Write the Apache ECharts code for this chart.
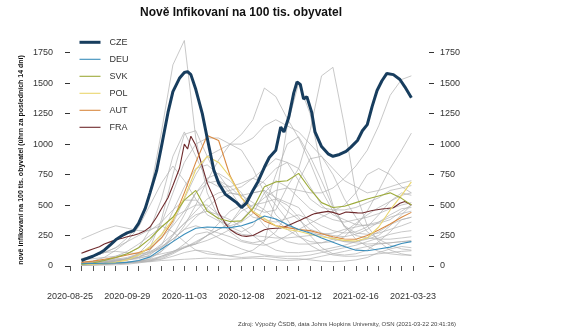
<!DOCTYPE html>
<html>
<head>
<meta charset="utf-8">
<script src="https://cdn.jsdelivr.net/npm/echarts@6/dist/echarts.min.js"></script>
<style>
  html, body { margin: 0; padding: 0; background: #ffffff; }
  #chart { width: 579px; height: 335px; }
</style>
</head>
<body>
<div id="chart"></div>
<script>
// ---- axis reference --------------------------------------------------------
const startDate = '2020-08-25';
const endDate = '2021-03-23';
const labelDates = ['2020-08-25', '2020-09-29', '2020-11-03', '2020-12-08',
                    '2021-01-12', '2021-02-16', '2021-03-23'];
const yTicks = [0, 250, 500, 750, 1000, 1250, 1500, 1750];

// ---- sampling dates --------------------------------------------------------
const halfWeekDates = [
  '2020-09-01','2020-09-04','2020-09-08','2020-09-12','2020-09-15','2020-09-19','2020-09-22',
  '2020-09-26','2020-09-29','2020-10-03','2020-10-06','2020-10-10','2020-10-13','2020-10-17',
  '2020-10-20','2020-10-24','2020-10-27','2020-10-31','2020-11-03','2020-11-05','2020-11-07',
  '2020-11-10','2020-11-14','2020-11-17','2020-11-21','2020-11-24','2020-11-28','2020-12-01',
  '2020-12-05','2020-12-08','2020-12-11','2020-12-15','2020-12-18','2020-12-22','2020-12-25',
  '2020-12-29','2021-01-01','2021-01-03','2021-01-06','2021-01-09','2021-01-11','2021-01-13',
  '2021-01-15','2021-01-17','2021-01-20','2021-01-22','2021-01-26','2021-01-30','2021-02-02',
  '2021-02-06','2021-02-10','2021-02-13','2021-02-17','2021-02-20','2021-02-23','2021-02-26',
  '2021-03-01','2021-03-04','2021-03-07','2021-03-11','2021-03-15','2021-03-18','2021-03-22'
];
const weekDates = [
  '2020-09-01','2020-09-08','2020-09-15','2020-09-22','2020-09-29','2020-10-06','2020-10-13',
  '2020-10-20','2020-10-27','2020-11-03','2020-11-10','2020-11-17','2020-11-24','2020-12-01',
  '2020-12-08','2020-12-15','2020-12-22','2020-12-29','2021-01-05','2021-01-12','2021-01-19',
  '2021-01-26','2021-02-02','2021-02-09','2021-02-16','2021-02-23','2021-03-02','2021-03-09',
  '2021-03-16','2021-03-22'
];

// ---- highlighted countries -------------------------------------------------
const CZE = [45,60,80,105,130,178,215,250,272,290,350,470,600,780,980,1260,1430,1540,1588,1595,
             1570,1450,1250,1050,790,680,590,560,520,480,515,620,690,810,890,950,1140,1100,1225,
             1420,1510,1490,1370,1390,1260,1100,980,920,900,915,940,975,1030,1110,1160,1310,1440,
             1520,1580,1570,1530,1470,1380];
const FRA = [105,120,140,158,180,200,215,228,240,252,265,290,320,400,470,560,660,800,1000,960,
             1065,990,820,680,560,440,350,300,265,248,243,250,270,298,305,310,312,320,335,353,
             365,375,390,400,420,430,440,448,440,422,443,440,436,435,445,455,462,468,472,478,
             515,530,500];
const DEU = [18,20,22,25,30,45,75,140,200,260,310,320,315,315,330,360,410,385,340,300,
             270,230,195,160,130,125,140,155,185,200];
const SVK = [15,25,45,70,100,150,225,320,400,540,620,450,390,365,370,470,650,690,700,760,
             630,520,480,490,520,550,575,600,555,500];
const POL = [12,15,20,30,50,90,160,260,380,560,790,900,850,730,560,450,390,330,300,285,
             260,240,225,210,205,230,320,460,580,690];
const AUT = [30,40,55,70,90,110,140,230,370,600,850,1070,1030,740,560,440,370,330,315,300,
             290,265,240,222,220,250,295,345,400,440];

// ---- other European countries (background) ---------------------------------
const BEL = [60,80,110,150,230,330,600,1100,1650,1850,1050,600,400,300,260,250,240,230,230,240,250,260,270,300,320,340,360,400,430,450];
const ESP = [220,260,300,330,310,290,290,360,460,540,540,470,380,280,210,190,210,280,430,700,880,900,750,550,400,280,220,170,140,130];
const LTU = [10,12,15,20,25,40,70,120,200,330,500,700,870,1000,1080,1200,1460,1390,1210,1050,850,620,450,330,270,260,270,300,330,360];
const PRT = [30,35,45,55,70,100,150,230,330,450,600,680,700,650,560,480,440,460,650,800,1110,1560,1630,1150,600,330,200,130,100,85];
const EST = [10,12,15,20,30,40,55,80,110,150,180,210,250,300,380,480,560,620,640,620,600,600,640,720,820,950,1150,1400,1530,1560];
const HUN = [5,8,15,30,60,90,120,160,220,300,400,480,560,600,580,520,460,380,300,240,200,190,200,240,330,450,620,800,950,1090];
const CHE = [20,25,30,40,60,90,150,380,750,1080,1110,900,700,600,580,600,620,560,520,480,350,270,230,200,190,180,185,190,200,210];
const SVN = [15,20,30,40,60,100,200,350,600,850,1000,1050,1050,1000,1000,1050,1150,1200,1150,1100,1000,900,800,700,650,600,620,650,680,700];
const IRL = [60,80,110,150,200,250,300,330,280,200,130,100,90,85,100,130,200,550,1150,1500,1250,800,500,320,250,230,220,220,230,240];
const GBR = [20,30,50,80,120,180,250,320,400,450,500,500,420,320,280,330,480,750,1000,1060,900,700,480,330,220,160,120,100,90,90];
const NLD = [25,40,70,130,200,320,500,680,820,700,550,420,370,330,360,430,600,700,650,560,470,420,380,360,380,400,430,470,500,520];
const ITA = [30,35,40,45,50,70,130,250,450,650,800,830,750,620,480,400,380,360,390,420,380,330,290,270,280,320,420,530,600,580];
const SWE = [25,30,35,45,60,80,100,150,250,350,450,550,600,620,650,720,800,880,850,700,550,480,460,460,480,520,560,620,640,660];
const LVA = [5,5,8,10,15,25,40,80,120,160,180,250,350,450,500,620,700,800,850,800,650,500,420,380,340,330,350,380,450,500];
const DNK = [20,25,35,50,60,70,80,100,120,150,190,250,300,350,480,600,620,500,380,250,170,120,90,80,80,90,100,110,120,125];
const HRV = [15,30,50,60,50,60,90,170,350,550,750,900,950,1000,950,800,600,420,330,300,280,250,220,200,200,220,250,330,420,500];
const BGR = [10,12,15,20,25,35,60,120,250,420,600,720,760,700,600,450,330,250,200,180,180,190,220,280,350,420,480,530,580,600];
const ROU = [20,25,30,40,50,70,110,180,260,350,420,450,420,380,320,250,180,130,110,110,120,130,150,170,200,230,280,340,380,400];
const GRC = [20,25,30,30,35,40,50,70,110,180,260,280,230,180,140,110,90,80,80,80,90,110,130,150,170,200,230,260,280,290];
const FIN = [10,12,15,20,25,30,35,45,50,55,60,65,60,55,60,65,60,50,45,50,60,80,100,120,140,160,180,190,200,200];
const NOR = [10,15,20,25,30,35,40,55,80,110,130,120,100,80,70,75,80,70,60,60,50,40,35,40,50,70,110,140,160,150];
const LUX = [50,60,70,80,100,150,300,550,900,1100,900,700,650,650,680,720,680,550,450,380,300,270,250,240,260,300,360,420,470,480];
const CYP = [10,12,15,20,25,35,45,60,100,150,200,250,300,350,450,500,520,550,500,400,250,150,100,90,100,130,200,280,380,400];
const MLT = [50,80,110,120,110,100,110,150,220,300,330,300,270,240,200,180,170,200,250,300,350,400,450,500,600,750,800,750,650,600];

const background = { BEL, ESP, LTU, PRT, EST, HUN, CHE, SVN, IRL, GBR, NLD, ITA, SWE, LVA,
                     DNK, HRV, BGR, ROU, GRC, FIN, NOR, LUX, CYP, MLT };

// ---- helpers ---------------------------------------------------------------
const DAY = 86400000;
const t0 = Date.parse(startDate + 'T00:00:00Z');
const dayOf = s => Math.round((Date.parse(s + 'T00:00:00Z') - t0) / DAY);
const dateOf = d => new Date(t0 + d * DAY).toISOString().slice(0, 10);
const zip = (dates, vals) => vals.map((v, i) => [dayOf(dates[i]), v]);

const highlight = [
  { name: 'CZE', dates: halfWeekDates, vals: CZE, color: '#173d5e', width: 3 },
  { name: 'DEU', dates: weekDates, vals: DEU, color: '#3a8ebb', width: 1.1 },
  { name: 'SVK', dates: weekDates, vals: SVK, color: '#9dab3a', width: 1.1 },
  { name: 'POL', dates: weekDates, vals: POL, color: '#ead66e', width: 1.1 },
  { name: 'AUT', dates: weekDates, vals: AUT, color: '#d98940', width: 1.1 },
  { name: 'FRA', dates: halfWeekDates, vals: FRA, color: '#6f2a2c', width: 1.1 }
];

const series = [];
Object.keys(background).forEach(k => {
  series.push({
    name: k, type: 'line', data: zip(weekDates, background[k]),
    showSymbol: false, symbol: 'none', clip: false, silent: true, z: 1,
    lineStyle: { color: '#b0b0b0', width: 0.7 }
  });
});
// highlighted lines drawn on top, CZE last
highlight.slice().reverse().forEach((h, i) => {
  series.push({
    name: h.name, type: 'line', data: zip(h.dates, h.vals),
    symbol: 'none', clip: false, z: 2 + i,
    color: h.color,
    lineStyle: { color: h.color, width: h.width }
  });
});

const chart = echarts.init(document.getElementById('chart'), null, { renderer: 'canvas' });
const tickFont = { fontFamily: 'Liberation Sans, Arial, sans-serif', fontSize: 9, color: '#333' };

chart.setOption({
  animation: false,
  backgroundColor: '#ffffff',
  grid: { left: 70, right: 166, top: 52.7, bottom: 69 },
  xAxis: {
    type: 'value', min: 0, max: dayOf(endDate), interval: 7, offset: 15,
    axisLine: { show: false },
    axisTick: { show: true, length: 5, lineStyle: { color: '#555', width: 1 } },
    splitLine: { show: false },
    axisLabel: Object.assign({ margin: 11, showMinLabel: true, showMaxLabel: true,
      formatter: v => { const s = dateOf(v); return labelDates.includes(s) ? s : ''; } }, tickFont)
  },
  yAxis: [
    { type: 'value', min: yTicks[0], max: yTicks[yTicks.length - 1], interval: 250, offset: 7,
      axisLine: { show: false }, splitLine: { show: false },
      axisTick: { show: true, length: 5, lineStyle: { color: '#333' } },
      axisLabel: Object.assign({ margin: 10, formatter: v => String(v) }, tickFont) },
    { type: 'value', position: 'right', min: yTicks[0], max: yTicks[yTicks.length - 1], interval: 250, offset: 16,
      axisLine: { show: false }, splitLine: { show: false },
      axisTick: { show: true, length: 5, lineStyle: { color: '#333' } },
      axisLabel: Object.assign({ margin: 11, formatter: v => String(v) }, tickFont) }
  ],
  legend: {
    orient: 'vertical', left: 78, top: 37.3, padding: 0,
    itemWidth: 21, itemHeight: 10, itemGap: 7,
    textStyle: { fontFamily: 'Liberation Sans, Arial, sans-serif', fontSize: 9, color: '#333',
                 lineHeight: 10, padding: [0, 0, 0, 4] },
    // line-only keys: the marker dot is made transparent
    data: highlight.map(h => ({ name: h.name,
      itemStyle: { opacity: 0 },
      lineStyle: { width: h.width, color: h.color, opacity: 1 } }))
  },
  series: series,
  graphic: [
    { type: 'text', x: 241, y: 13,
      style: { text: 'Nově Infikovaní na 100 tis. obyvatel', fill: '#111',
               font: 'bold 12px "Liberation Sans", Arial, sans-serif',
               textAlign: 'center', textVerticalAlign: 'middle' } },
    { type: 'text', x: 21.5, y: 160, rotation: Math.PI / 2,
      style: { text: 'nově infikovaní na 100 tis. obyvatel (úhrn za posledních 14 dní)', fill: '#111',
               font: 'bold 7px "Liberation Sans", Arial, sans-serif',
               textAlign: 'center', textVerticalAlign: 'middle' } },
    { type: 'text', x: 238, y: 324,
      style: { text: 'Zdroj: Výpočty ČSDB, data Johns Hopkins University, OSN (2021-03-22 20:41:36)',
               fill: '#444', font: '6px "Liberation Sans", Arial, sans-serif',
               textAlign: 'left', textVerticalAlign: 'middle' } }
  ]
});
</script>
</body>
</html>
